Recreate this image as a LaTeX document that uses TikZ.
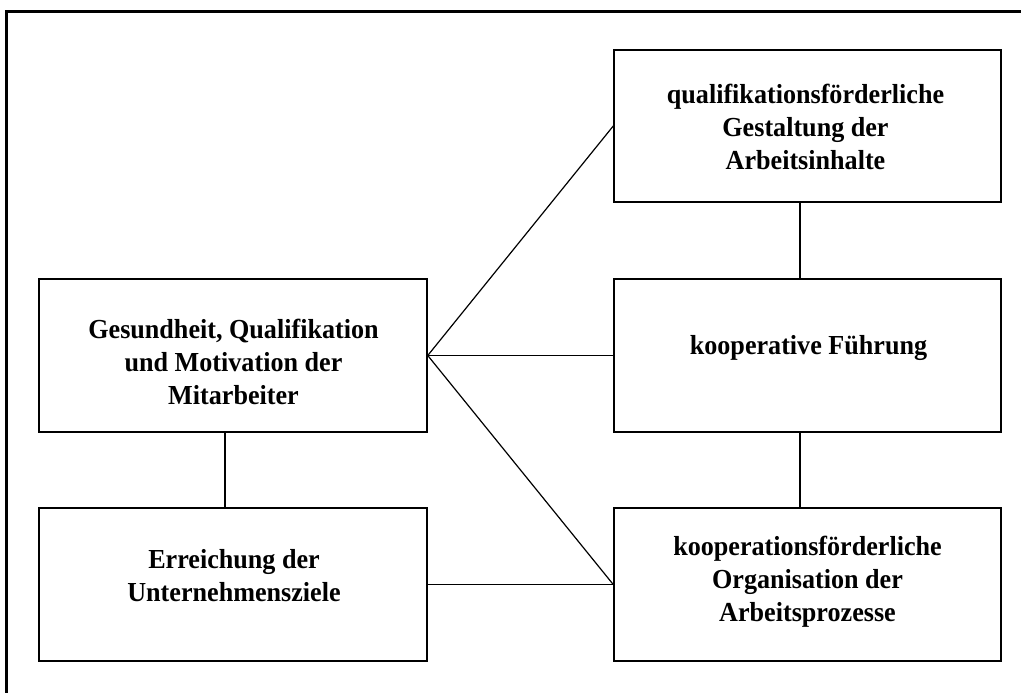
\documentclass[tikz,border=0pt]{standalone}
\usepackage{fontspec}
\setmainfont{Liberation Serif}
\newfontfamily\boxfont[FakeStretch=0.95]{Liberation Serif}
\tikzset{
  box/.style={draw=black, line width=1.5pt, rectangle, inner sep=0pt,
    minimum width=387pt, minimum height=153pt},
  boxtext/.style={anchor=north, inner sep=0pt, align=center,
    font=\boxfont\fontsize{27.5}{33}\selectfont\bfseries},
  link/.style={draw=black, line width=1.2pt},
}
\newcommand{\firstline}{\rule{0pt}{20pt}}
\begin{document}
\begin{tikzpicture}[x=1pt,y=-1pt]
\useasboundingbox (0,0) rectangle (1021,693);
\begin{scope}
\clip (0,0) rectangle (1021,693);
\draw[line width=3pt] (6.5,720) -- (6.5,12) -- (1040,12);
\end{scope}
% boxes
\node[box, minimum width=388pt] (A) at (233,355.5) {};
\node[box, minimum width=388pt] (B) at (233,584.5) {};
\node[box, minimum height=152pt] (C) at (807.5,126) {};
\node[box] (D) at (807.5,355.5) {};
\node[box] (E) at (807.5,584.5) {};
% texts
\node[boxtext] (At) at (233.5,318) {\firstline Gesundheit, Qualifikation\\und Motivation der\\Mitarbeiter};
\node[boxtext] (Bt) at (234,548) {\firstline Erreichung der\\Unternehmensziele};
\node[boxtext] (Ct) at (805.5,83) {\firstline qualifikationsförderliche\\Gestaltung der\\Arbeitsinhalte};
\node[boxtext] (Dt) at (808.5,334) {\firstline kooperative Führung};
\node[boxtext] (Et) at (807.5,535) {\firstline kooperationsförderliche\\Organisation der\\Arbeitsprozesse};
% connectors
\draw[link] (A.east) -- (C.west);
\draw[link] (A.east) -- (D.west);
\draw[link] (A.east) -- (E.west);
\draw[link] (B.east) -- (E.west);
\draw[link] ([xshift=-8pt]A.south) -- ([xshift=-8pt]B.north);
\draw[link] ([xshift=-7.5pt]C.south) -- ([xshift=-7.5pt]D.north);
\draw[link] ([xshift=-7.5pt]D.south) -- ([xshift=-7.5pt]E.north);
\end{tikzpicture}
\end{document}
